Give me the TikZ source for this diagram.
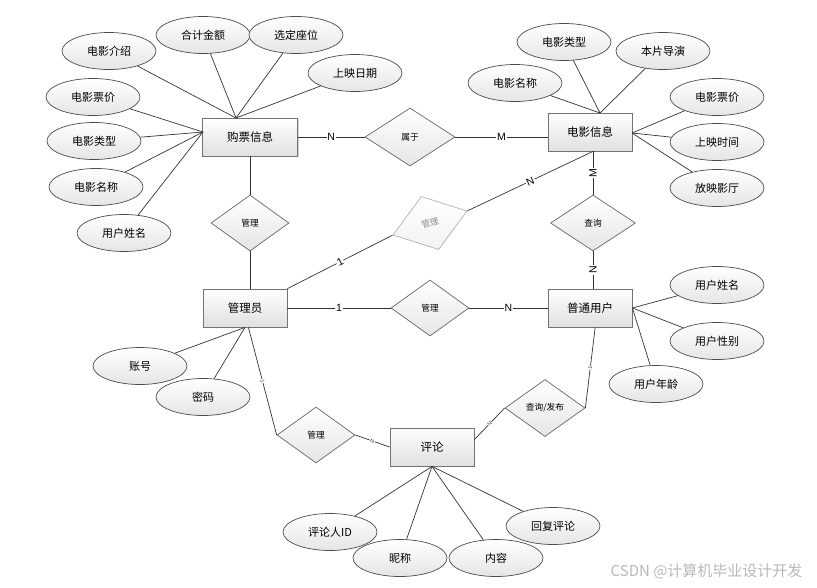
\documentclass[tikz,border=0pt]{standalone}
\usepackage{fontspec}
\setmainfont{Liberation Sans}
\newfontfamily\cjk{Noto Sans CJK SC}
\usetikzlibrary{shapes.geometric,shadows}

\begin{document}
\begin{tikzpicture}[x=1pt,y=-1pt,font=\cjk,
  entity/.style={draw=black!55, line width=0.8pt, top color=white, bottom color=black!12,
    minimum width=84pt, minimum height=38pt, inner sep=0pt, font=\cjk\fontsize{11.5}{12}\selectfont,
    drop shadow={shadow xshift=1.2pt, shadow yshift=-1.2pt, opacity=0.35}},
  attr/.style={ellipse, draw=black!70, line width=0.7pt, top color=white, bottom color=black!10,
    minimum width=94pt, minimum height=37pt, inner sep=0pt, font=\cjk\fontsize{11}{12}\selectfont},
  rel/.style={diamond, draw=black!60, line width=0.7pt, top color=white, bottom color=black!10,
    minimum width=78pt, minimum height=56pt, inner sep=0pt, font=\cjk\fontsize{8.7}{9}\selectfont},
  link/.style={draw=black!80, line width=0.7pt},
  card/.style={fill=white, inner sep=0.8pt, font=\fontsize{10.5}{11}\selectfont},
  tick/.style={fill=white, inner sep=0.3pt, text=black!70, sloped, font=\fontsize{5.5}{6}\selectfont}]
  \useasboundingbox (0,0) rectangle (817,587);

  \node[entity, minimum width=95pt] (gp) at (250,137) {购票信息};
  \node[entity] (dy) at (590,132) {电影信息};
  \node[entity] (gly) at (245,308) {管理员};
  \node[entity] (pt) at (590,308) {普通用户};
  \node[entity] (pl) at (432,447) {评论};

  \node[rel, minimum width=90pt, minimum height=58pt] (sy) at (410,137) {属于};
  \node[rel] (gl1) at (250,223) {管理};
  \node[rel, rotate=18, draw=black!30, bottom color=black!5, text=black!45] (gl2) at (430,223) {管理};
  \node[rel, minimum width=85pt] (cx) at (593,223) {查询};
  \node[rel] (gl3) at (430,308) {管理};
  \node[rel] (gl4) at (316,435) {管理};
  \node[rel, minimum width=80pt, minimum height=57pt] (cf) at (545,408) {查询/发布};

  \node[attr] (gpa1) at (109,51) {电影介绍};
  \node[attr] (gpa2) at (203,35) {合计金额};
  \node[attr] (gpa3) at (296,35) {选定座位};
  \node[attr] (gpa4) at (355,73) {上映日期};
  \node[attr] (gpa5) at (93,97) {电影票价};
  \node[attr] (gpa6) at (94,141) {电影类型};
  \node[attr] (gpa7) at (96,187) {电影名称};
  \node[attr] (gpa8) at (124,233) {用户姓名};

  \node[attr] (dya1) at (515,83) {电影名称};
  \node[attr] (dya2) at (564,42) {电影类型};
  \node[attr] (dya3) at (663,51) {本片导演};
  \node[attr] (dya4) at (717,97) {电影票价};
  \node[attr] (dya5) at (717,142) {上映时间};
  \node[attr] (dya6) at (717,188) {放映影厅};

  \node[attr] (pta1) at (717,285) {用户姓名};
  \node[attr] (pta2) at (717,341) {用户性别};
  \node[attr] (pta3) at (656,384) {用户年龄};

  \node[attr] (glya1) at (140,366) {账号};
  \node[attr] (glya2) at (203,397) {密码};

  \node[attr] (pla1) at (330,532) {评论人ID};
  \node[attr] (pla2) at (400,558) {昵称};
  \node[attr] (pla3) at (496,558) {内容};
  \node[attr] (pla4) at (553,526) {回复评论};

  \coordinate (gpT) at (236,118);
  \coordinate (gpL) at (203,132);
  \coordinate (dyT) at (600,113);
  \coordinate (dyR) at (632,133);
  \coordinate (dyB) at (cx.north |- dy.south);

  \foreach \n in {gpa1,gpa2,gpa3,gpa4} \draw[link] (\n) -- (gpT);
  \foreach \n in {gpa5,gpa6,gpa7,gpa8} \draw[link] (\n) -- (gpL);
  \foreach \n in {dya1,dya2,dya3} \draw[link] (\n) -- (dyT);
  \foreach \n in {dya4,dya5,dya6} \draw[link] (\n) -- (dyR);
  \foreach \n in {pta1,pta2,pta3} \draw[link] (\n) -- (pt.east);
  \foreach \n in {glya1,glya2} \draw[link] (\n) -- (gly.south);
  \foreach \n in {pla1,pla2,pla3,pla4} \draw[link] (\n) -- (pl.south);

  \draw[link] (gp) -- (sy) node[card,midway] {N};
  \draw[link] (sy.east) -- (sy.east -| dy.west) node[card,midway] {M};
  \draw[link] (gp) -- (gl1);
  \draw[link] (gl1.south) -- (gl1.south |- gly.north);
  \draw[link] (gly.north east) -- (gl2.west) node[card,midway,sloped] {1};
  \draw[link] (gl2.east) -- (dyB) node[card,midway,sloped] {N};
  \draw[link] (dyB) -- (cx.north) node[card,midway,rotate=90] {M};
  \draw[link] (cx.south) -- (cx.south |- pt.north) node[card,midway,rotate=90] {N};
  \draw[link] (gly) -- (gl3) node[card,midway] {1};
  \draw[link] (gl3) -- (pt) node[card,midway] {N};
  \draw[link] (gly.-80) -- (gl4.west) node[tick,midway] {1};
  \draw[link] (gl4.east) -- (pl.west) node[tick,midway] {N};
  \draw[link] (pl.10) -- (cf.west) node[tick,midway] {N};
  \draw[link] (cf.east) -- (pt.-75) node[tick,midway] {1};

  \node[anchor=east, text=black!28, font=\cjk\fontsize{15}{16}\selectfont] (wm) at (806,571) {CSDN @计算机毕业设计开发};
\end{tikzpicture}
\end{document}
